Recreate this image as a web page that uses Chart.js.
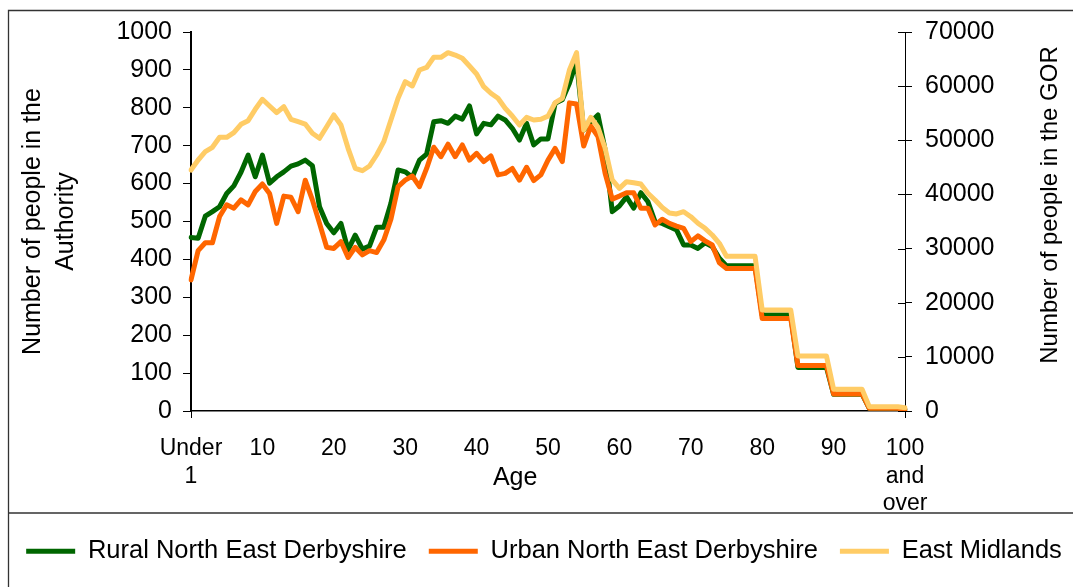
<!DOCTYPE html>
<html>
<head>
<meta charset="utf-8">
<script src="https://cdn.jsdelivr.net/npm/chart.js@4.4.1/dist/chart.umd.min.js"></script>
<style>
  html, body { margin: 0; padding: 0; background: #fff; overflow: hidden; }
  #wrap { width: 1073px; height: 587px; position: relative; overflow: hidden; }
</style>
</head>
<body>
<div id="wrap"><canvas id="c" width="1088" height="587"></canvas></div>
<script>
// ---- Data ----
const ageLabels = ['Under 1'];
for (let a = 1; a < 100; a++) ageLabels.push(String(a));
ageLabels.push('100 and over');

const seriesNames = ['Rural North East Derbyshire', 'Urban North East Derbyshire', 'East Midlands'];

// Rural North East Derbyshire (left axis)
const rural = [
  458, 456, 514, 526, 539, 574, 594, 630, 675, 618,
  675, 601, 618, 631, 646, 652, 662, 647, 539, 495,
  470, 495, 425, 464, 427, 435, 485, 485, 548, 636,
  631, 617, 662, 678, 763, 766, 759, 778, 770, 805,
  731, 759, 755, 778, 768, 746, 715, 759, 702, 718,
  718, 812, 821, 865, 922, 741, 763, 781, 689, 526,
  541, 565, 535, 576, 552, 499, 495, 486, 478, 438,
  438, 429, 444, 434, 403, 383, 383, 383, 383, 383,
  253, 253, 253, 253, 253, 115, 115, 115, 115, 115,
  44, 44, 44, 44, 44, 7, 7, 7, 7, 7,
  4
];

// Urban North East Derbyshire (left axis)
const urban = [
  346, 423, 444, 444, 513, 544, 535, 557, 544, 579,
  599, 574, 495, 567, 564, 526, 609, 557, 495, 432,
  429, 447, 405, 432, 412, 423, 418, 451, 506, 592,
  609, 620, 592, 640, 696, 671, 704, 671, 702, 662,
  680, 658, 673, 623, 627, 640, 609, 643, 608, 623,
  662, 693, 658, 813, 810, 699, 752, 724, 627, 559,
  567, 576, 576, 535, 535, 491, 506, 495, 488, 482,
  447, 462, 449, 438, 391, 376, 376, 376, 376, 376,
  244, 244, 244, 244, 244, 120, 120, 120, 120, 120,
  45, 45, 45, 45, 45, 7, 7, 7, 7, 7,
  4
];

// East Midlands (right axis, GOR)
const eastMidlands = [
  44510, 46360, 47890, 48700, 50550, 50550, 51400, 52950, 53620, 55720,
  57570, 56330, 55100, 56200, 53880, 53450, 53000, 51290, 50370, 52510,
  54670, 52820, 48520, 44830, 44380, 45250, 47280, 49740, 53750, 57760,
  60820, 60030, 62980, 63450, 65330, 65330, 66180, 65750, 65140, 63720,
  62240, 59900, 58680, 57760, 55910, 54490, 52820, 54240, 53750, 53880,
  54460, 56940, 57760, 62980, 66180, 51900, 54240, 52400, 48520, 42670,
  41130, 42350, 42170, 41930, 40210, 38970, 37580, 36570, 36390, 36810,
  35890, 34670, 33740, 32510, 30970, 28570, 28570, 28570, 28570, 28570,
  18650, 18650, 18650, 18650, 18650, 10160, 10160, 10160, 10160, 10160,
  4000, 4000, 4000, 4000, 4000, 800, 800, 800, 800, 800,
  600
];

const leftTitle = ['Number of people in the', 'Authority'];
const rightTitle = 'Number of people in the GOR';
const xTitle = 'Age';

const colors = { rural: '#006600', urban: '#FF6600', em: '#FFCC66' };
const FONT = "'Liberation Sans', Arial, Helvetica, sans-serif";

Chart.defaults.font.family = FONT;
Chart.defaults.color = '#000';

const decorPlugin = {
  id: 'decor',
  beforeDraw(chart) {
    const ctx = chart.ctx;
    ctx.save();
    ctx.fillStyle = '#fff';
    ctx.fillRect(0, 0, chart.width, chart.height);
    ctx.strokeStyle = '#333';
    ctx.lineWidth = 1.3;
    ctx.beginPath();
    ctx.moveTo(8.5, chart.height);
    ctx.lineTo(8.5, 10.5);
    ctx.lineTo(chart.width, 10.5);
    ctx.moveTo(8.5, 513);
    ctx.lineTo(chart.width, 513);
    ctx.stroke();
    ctx.restore();
  },
  afterDraw(chart) {
    const ctx = chart.ctx;
    const area = chart.chartArea;
    ctx.save();
    // inner half of the right-axis tick marks (they cross the axis)
    const r = chart.scales.y1;
    ctx.strokeStyle = '#000';
    ctx.lineWidth = 1;
    ctx.beginPath();
    r.ticks.forEach(t => {
      const py = Math.round(r.getPixelForValue(t.value)) + 0.5;
      ctx.moveTo(area.right - 7, py);
      ctx.lineTo(area.right, py);
    });
    ctx.stroke();
    ctx.fillStyle = '#000';
    ctx.textAlign = 'center';
    ctx.textBaseline = 'middle';
    // x-axis title
    ctx.font = '25px ' + FONT;
    ctx.fillText(xTitle, area.left + (area.right - area.left) * 0.454, 478);
    // right axis title (reads bottom to top)
    ctx.font = '24px ' + FONT;
    ctx.translate(1050, 205);
    ctx.rotate(-Math.PI / 2);
    ctx.fillText(rightTitle, 0, 0);
    ctx.restore();
  }
};

new Chart(document.getElementById('c'), {
  type: 'line',
  data: {
    labels: ageLabels,
    datasets: [
      { label: seriesNames[0], data: rural, yAxisID: 'y', borderColor: colors.rural, backgroundColor: colors.rural, order: 3 },
      { label: seriesNames[1], data: urban, yAxisID: 'y', borderColor: colors.urban, backgroundColor: colors.urban, order: 2 },
      { label: seriesNames[2], data: eastMidlands, yAxisID: 'y1', borderColor: colors.em, backgroundColor: colors.em, order: 1 }
    ].map(d => Object.assign(d, {
      borderWidth: 5, pointRadius: 0, pointHoverRadius: 0, tension: 0, fill: false,
      borderJoinStyle: 'round', borderCapStyle: 'round'
    }))
  },
  options: {
    responsive: false,
    animation: false,
    layout: { padding: { top: 32, bottom: 13, left: 0, right: 0 } },
    plugins: {
      tooltip: { enabled: false },
      legend: {
        position: 'bottom',
        labels: {
          usePointStyle: true,
          pointStyle: 'line',
          pointStyleWidth: 49,
          padding: 22,
          color: '#000',
          font: { size: 25.5 },
          sort: (a, b) => a.datasetIndex - b.datasetIndex
        }
      }
    },
    scales: {
      x: {
        type: 'category',
        offset: false,
        afterFit: s => { s.height = 105.5; },
        ticks: {
          autoSkip: false, maxRotation: 0, minRotation: 0, padding: 17,
          font: { size: 23, lineHeight: 1.2 }, color: '#000',
          callback: function (val, idx) {
            if (idx % 10 !== 0) return null;
            return ageLabels[idx].split(' ');
          }
        },
        grid: {
          display: true, drawOnChartArea: false, drawTicks: true, tickLength: 7,
          color: c => (c.index % 10 === 0 ? '#000' : 'rgba(0,0,0,0)'), lineWidth: 1
        },
        border: { display: true, color: '#000', width: 1.5 }
      },
      y: {
        position: 'left',
        min: 0, max: 1000,
        afterFit: s => { s.width = 191; },
        ticks: { stepSize: 100, autoSkip: false, padding: 11, font: { size: 25 }, color: '#000', callback: v => String(v) },
        grid: { drawOnChartArea: false, tickLength: 8, color: '#000', lineWidth: 1 },
        border: { display: true, color: '#000', width: 2 },
        title: {
          display: true, text: leftTitle, color: '#000',
          font: { size: 25, lineHeight: 1.3 }, padding: { top: 17, bottom: 0 }
        }
      },
      y1: {
        position: 'right',
        min: 0, max: 70000,
        afterFit: s => { s.width = 183; },
        ticks: { stepSize: 10000, autoSkip: false, padding: 13, font: { size: 25 }, color: '#000', callback: v => String(v) },
        grid: { drawOnChartArea: false, tickLength: 7, color: '#000', lineWidth: 1 },
        border: { display: true, color: '#000', width: 1 }
      }
    }
  },
  plugins: [decorPlugin]
});
</script>
</body>
</html>
